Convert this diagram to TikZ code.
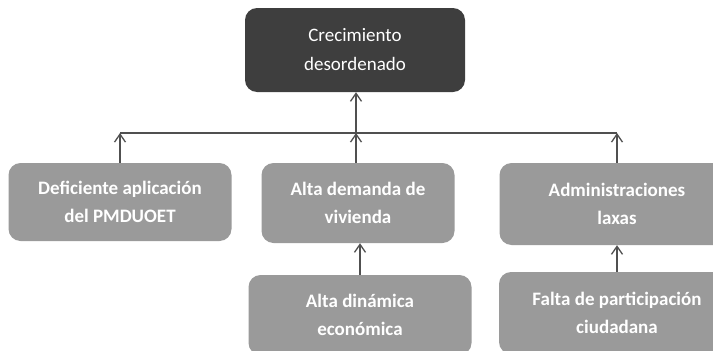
\documentclass[tikz,border=0pt]{standalone}
\usepackage{fontspec}
\setmainfont{Carlito}
\usepackage{tikz}
\usetikzlibrary{arrows.meta,calc}
\definecolor{boxdark}{HTML}{3E3E3E}
\definecolor{boxgray}{HTML}{9A9A9A}
\definecolor{linegray}{HTML}{505050}
\tikzset{
    block/.style = {rectangle, rounded corners=12pt, fill=boxgray,
        text=white, font=\bfseries\fontsize{19}{28}\selectfont,
        align=center, inner sep=0pt},
    topblock/.style = {block, fill=boxdark, font=\fontsize{19}{29}\selectfont},
    arrow/.style = {draw=linegray, line width=1.3pt,
        -{Straight Barb[length=8pt,width=11pt]}},
    bus/.style = {draw=linegray, line width=1.3pt}
}

\begin{document}
\begin{tikzpicture}[x=1pt,y=-1pt]
            \clip (0,0) rectangle (713,351);
            \node[topblock,minimum width=220pt,minimum height=84pt] (cre) at (355,50) {Crecimiento\\desordenado};
            \node[block,minimum width=223pt,minimum height=78pt] (def) at (120,202) {Deficiente aplicación\\del PMDUOET};
            \node[block,minimum width=193pt,minimum height=80pt] (dem) at (358,203) {Alta demanda de\\vivienda};
            \node[block,minimum width=235pt,minimum height=82pt] (adm) at (617,204) {Administraciones\\laxas};
            \node[block,minimum width=223pt,minimum height=80pt] (din) at (360,315) {Alta dinámica\\económica};
            \node[block,minimum width=236pt,minimum height=82pt] (fal) at (617,313) {Falta de participación\\ciudadana};
            \coordinate (bar) at (356,133);
            \draw[bus] (def.north |- bar) -- (adm.north |- bar);
            \draw[arrow] (bar) -- (cre.south -| bar);
            \draw[arrow] (def.north) -- (def.north |- bar);
            \draw[arrow] (dem.north -| bar) -- (bar);
            \draw[arrow] (adm.north) -- (adm.north |- bar);
            \draw[arrow] (din.north) -- (din.north |- dem.south);
            \draw[arrow] (fal.north) -- (fal.north |- adm.south);
        \end{tikzpicture}
\end{document}
